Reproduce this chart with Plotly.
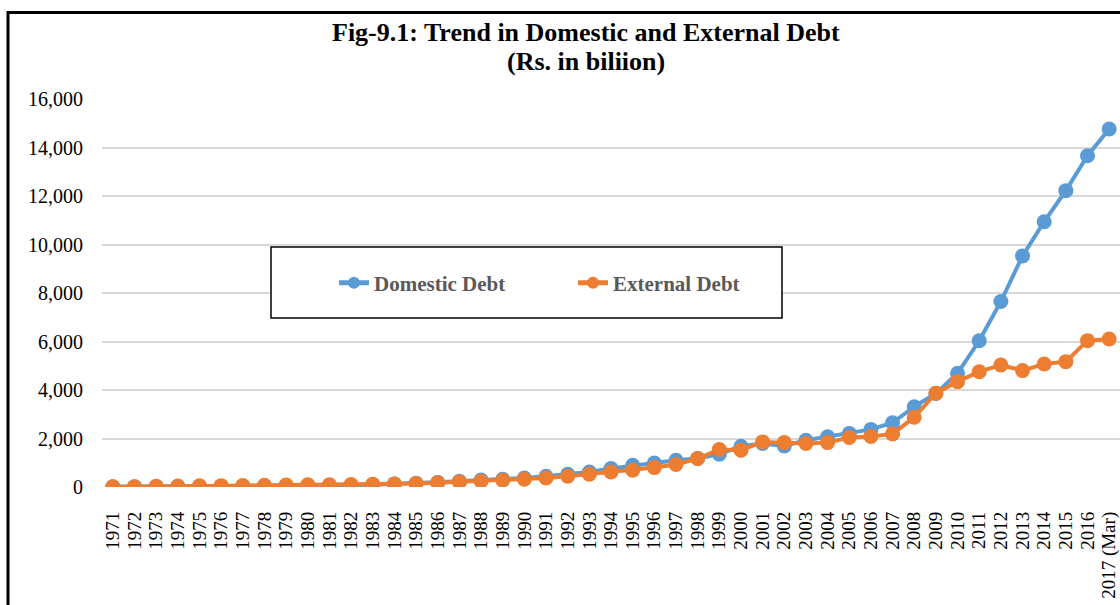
import plotly.graph_objects as go

# Fiscal years on the category axis
years = [str(y) for y in range(1971, 2017)] + ["2017 (Mar)"]

# Outstanding debt stocks, Rs. billion
domestic_debt = [10, 12, 14, 17, 20, 25, 33, 42, 52, 58,
                 64, 74, 97, 127, 153, 189, 240, 285, 320, 372,
                 445, 525, 620, 760, 895, 990, 1105, 1175, 1355, 1680,
                 1795, 1690, 1925, 2070, 2210, 2375, 2650, 3310, 3860, 4690,
                 6030, 7650, 9530, 10940, 12220, 13660, 14760]
external_debt = [12, 15, 30, 40, 48, 55, 62, 70, 80, 88,
                 92, 105, 115, 125, 140, 175, 210, 240, 280, 318,
                 372, 442, 525, 620, 690, 800, 925, 1175, 1545, 1520,
                 1860, 1835, 1795, 1830, 2040, 2080, 2190, 2875, 3865, 4345,
                 4755, 5030, 4800, 5075, 5170, 6035, 6105]

y_ticks = [0, 2000, 4000, 6000, 8000, 10000, 12000, 14000, 16000]

BLUE = "#5B9BD5"
ORANGE = "#ED7D31"
SERIF = "Liberation Serif"

fig = go.Figure()
fig.add_trace(go.Scatter(
    x=years, y=domestic_debt, name="Domestic Debt", mode="lines+markers",
    line=dict(color=BLUE, width=4), marker=dict(color=BLUE, size=15),
))
fig.add_trace(go.Scatter(
    x=years, y=external_debt, name="External Debt", mode="lines+markers",
    line=dict(color=ORANGE, width=4), marker=dict(color=ORANGE, size=15),
))

# plot area: 102..1120 px horizontally, 99..487 px vertically
L, R, T, B = 102, 1120, 99, 487
W, H = R - L, B - T


def px(x):
    return (x - L) / W


def py(y):
    return (B - y) / H


fig.update_layout(
    width=1120, height=605,
    margin=dict(l=L, r=1120 - R, t=T, b=605 - B),
    paper_bgcolor="white", plot_bgcolor="white",
    font=dict(family=SERIF, color="black"),
    showlegend=True,
    legend=dict(
        orientation="h", xref="paper", yref="paper",
        x=px(334), y=py(283), xanchor="left", yanchor="middle",
        bgcolor="rgba(0,0,0,0)", borderwidth=0,
        font=dict(family=SERIF, size=21, color="#595959", weight="bold"),
        itemsizing="constant", entrywidth=194, entrywidthmode="pixels",
    ),
    xaxis=dict(
        type="category", tickangle=-90, showgrid=False, zeroline=False,
        showline=False, ticks="", ticklabelstandoff=20,
        tickmode="array", tickvals=years, ticktext=years,
        tickfont=dict(family=SERIF, size=19, color="black"),
        range=[-0.5, len(years) - 0.5],
    ),
    yaxis=dict(
        range=[0, 16000], tickvals=y_ticks, tickformat=",",
        showgrid=True, gridcolor="#D9D9D9", gridwidth=1.5,
        zeroline=False, showline=False, ticks="", ticklabelstandoff=18,
        tickfont=dict(family=SERIF, size=20, color="black"),
    ),
    shapes=[
        # outer chart frame
        dict(type="rect", xref="paper", yref="paper",
             x0=px(8), x1=px(1200), y0=py(700), y1=py(12.5),
             line=dict(color="black", width=3), fillcolor="rgba(0,0,0,0)",
             layer="above"),
        # legend box
        dict(type="rect", xref="paper", yref="paper",
             x0=px(271), x1=px(782), y0=py(318), y1=py(247),
             line=dict(color="black", width=1.5), fillcolor="white",
             layer="above"),
    ],
    annotations=[
        dict(text="Fig-9.1: Trend in Domestic and External Debt",
             xref="paper", yref="paper", x=px(586), y=py(33),
             xanchor="center", yanchor="middle", showarrow=False,
             font=dict(family=SERIF, size=26, color="black", weight="bold")),
        dict(text="(Rs. in biliion)",
             xref="paper", yref="paper", x=px(586), y=py(62),
             xanchor="center", yanchor="middle", showarrow=False,
             font=dict(family=SERIF, size=26, color="black", weight="bold")),
    ],
)

fig.write_html("out.html")
